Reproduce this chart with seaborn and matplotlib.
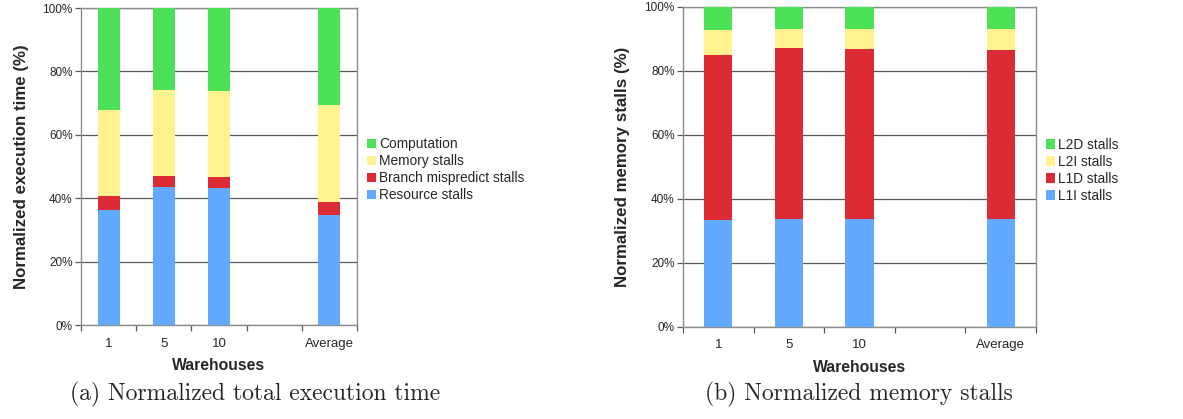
import pandas as pd
import numpy as np
import matplotlib
matplotlib.use('Agg')
import matplotlib.pyplot as plt
import matplotlib.ticker as mticker
from matplotlib.patches import Patch
import seaborn as sns

# Data (% of total)
warehouses = ['1', '5', '10', 'Average']
order = ['1', '5', '10', '', 'Average']   # blank slot before Average

resource_stalls = [36.4, 43.5, 43.3, 34.8]
branch_stalls   = [4.2, 3.4, 3.3, 4.1]
memory_stalls   = [27.3, 27.1, 27.2, 30.5]
computation     = [32.1, 26.0, 26.2, 30.6]

l1i_stalls = [33.4, 33.9, 33.7, 33.7]
l1d_stalls = [51.6, 53.3, 53.3, 52.9]
l2i_stalls = [7.8, 5.8, 6.0, 6.4]
l2d_stalls = [7.2, 7.0, 7.0, 7.0]

exec_labels = ['Resource stalls', 'Branch mispredict stalls', 'Memory stalls', 'Computation']
mem_labels  = ['L1I stalls', 'L1D stalls', 'L2I stalls', 'L2D stalls']

BLUE, RED, YELLOW, GREEN = '#63A9FF', '#DC2B35', '#FFF28F', '#4DE158'
COLORS = [BLUE, RED, YELLOW, GREEN]

sns.set_theme(style='white')
plt.rcParams['font.family'] = ['Liberation Sans', 'DejaVu Sans']


def stacked(ax, layers, labels, ylabel):
    df = pd.DataFrame({'Warehouses': warehouses})
    cum = np.zeros(len(warehouses))
    cums = []
    for vals in layers:
        cum = cum + np.array(vals)
        cums.append(cum.copy())
    # draw from top layer down so lower segments sit over upper ones
    for cum_vals, color in reversed(list(zip(cums, COLORS))):
        df['v'] = cum_vals
        sns.barplot(data=df, x='Warehouses', y='v', order=order, color=color,
                    width=0.4, linewidth=0, saturation=1, ax=ax, zorder=3)
    ax.set_ylim(0, 100)
    ax.set_xlim(-0.5, 4.5)
    ax.set_yticks(np.arange(0, 101, 20))
    ax.yaxis.set_major_formatter(mticker.FuncFormatter(lambda v, p: f'{v:.0f}%'))
    ax.yaxis.grid(True, color='#5a5a5a', linewidth=0.9, zorder=0)
    ax.set_axisbelow(True)
    for s in ax.spines.values():
        s.set_visible(True)
        s.set_color('#8c8c8c')
        s.set_linewidth(1.0)
    # x ticks at slot boundaries, labels centred
    ax.set_xticks(np.arange(-0.5, 5.0, 1.0), minor=True)
    ax.set_xticks(range(len(order)))
    ax.set_xticklabels(order)
    ax.tick_params(axis='x', which='major', length=0, pad=9, labelsize=9.5)
    ax.tick_params(axis='x', which='minor', length=4, width=0.9, color='#5a5a5a', bottom=True)
    ax.tick_params(axis='y', length=4, width=0.9, color='#5a5a5a', left=True, labelsize=8.5, pad=2)
    ax.set_xlabel('Warehouses', fontsize=11.3, fontweight='bold', labelpad=6)
    ax.set_ylabel(ylabel, fontsize=12.2, fontweight='bold', labelpad=10)
    handles = [Patch(facecolor=c, edgecolor='none') for c in COLORS]
    ax.legend(handles[::-1], labels[::-1], loc='center left', bbox_to_anchor=(1.0, 0.49),
              frameon=False, fontsize=9.9, handlelength=0.7, handleheight=0.7,
              handletextpad=0.2, labelspacing=0.22, borderaxespad=0.3)


fig = plt.figure(figsize=(11.83, 4.19), dpi=100)
ax1 = fig.add_axes([0.0685, 0.2243, 0.2333, 0.7566])
ax2 = fig.add_axes([0.5773, 0.2196, 0.2984, 0.7637])

stacked(ax1, [resource_stalls, branch_stalls, memory_stalls, computation],
        exec_labels, 'Normalized execution time (%)')
stacked(ax2, [l1i_stalls, l1d_stalls, l2i_stalls, l2d_stalls],
        mem_labels, 'Normalized memory stalls (%)')

fig.text(0.216, 0.045, '(a) Normalized total execution time', ha='center',
         fontsize=17, family=['cmr10', 'DejaVu Serif'])
fig.text(0.726, 0.045, '(b) Normalized memory stalls', ha='center',
         fontsize=17, family=['cmr10', 'DejaVu Serif'])

fig.savefig('out.png', dpi=100)
